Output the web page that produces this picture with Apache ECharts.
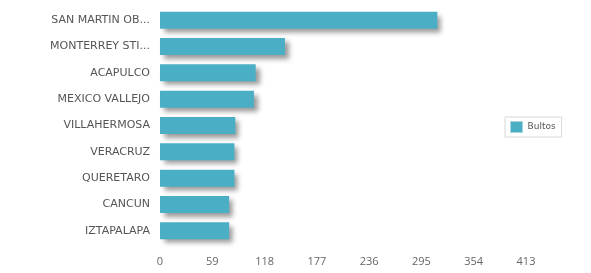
<!DOCTYPE html>
<html>
<head>
<meta charset="utf-8">
<script src="https://cdn.jsdelivr.net/npm/echarts@6/dist/echarts.min.js"></script>
<style>
html,body{margin:0;padding:0;background:#fff;}
#chart{width:591px;height:273px;}
</style>
</head>
<body>
<div id="chart"></div>
<script>
const categories = ["SAN MARTIN OB...", "MONTERREY STI...", "ACAPULCO", "MEXICO VALLEJO", "VILLAHERMOSA", "VERACRUZ", "QUERETARO", "CANCUN", "IZTAPALAPA"];
const bultos = [313, 141, 108, 106, 85, 84, 84, 78, 78];
const seriesName = "Bultos";
const xMin = 0, xMax = 413, xInterval = 59;

const chart = echarts.init(document.getElementById('chart'), null, {renderer: 'canvas'});
chart.setOption({
  animation: false,
  backgroundColor: '#ffffff',
  grid: {left: 160, right: 65, top: 7, bottom: 29, containLabel: false},
  legend: {
    data: [{name: seriesName, icon: 'rect'}],
    orient: 'vertical',
    left: 505, top: 117,
    itemWidth: 12, itemHeight: 11, itemGap: 4,
    padding: [4, 6, 4, 5],
    borderColor: '#d8d8d8', borderWidth: 1,
    textStyle: {fontFamily: 'DejaVu Sans', fontSize: 9, color: '#555'},
    itemStyle: {borderColor: '#a8d5df', borderWidth: 1, shadowBlur: 0, shadowOffsetX: 0, shadowOffsetY: 0}
  },
  xAxis: {
    type: 'value', min: xMin, max: xMax, interval: xInterval,
    axisLine: {show: false}, axisTick: {show: false}, splitLine: {show: false},
    axisLabel: {fontFamily: 'Open Sans', fontSize: 11, color: '#666', margin: 12}
  },
  yAxis: {
    type: 'category', data: categories, inverse: true,
    axisLine: {show: false}, axisTick: {show: false}, splitLine: {show: false},
    axisLabel: {fontFamily: 'DejaVu Sans', fontSize: 11, color: '#555', margin: 10}
  },
  series: [{
    name: seriesName, type: 'bar', data: bultos, barWidth: 17,
    itemStyle: {
      color: '#4AAFC5',
      shadowColor: 'rgba(0,0,0,0.4)', shadowBlur: 5, shadowOffsetX: 4, shadowOffsetY: 4
    }
  }]
});
</script>
</body>
</html>
